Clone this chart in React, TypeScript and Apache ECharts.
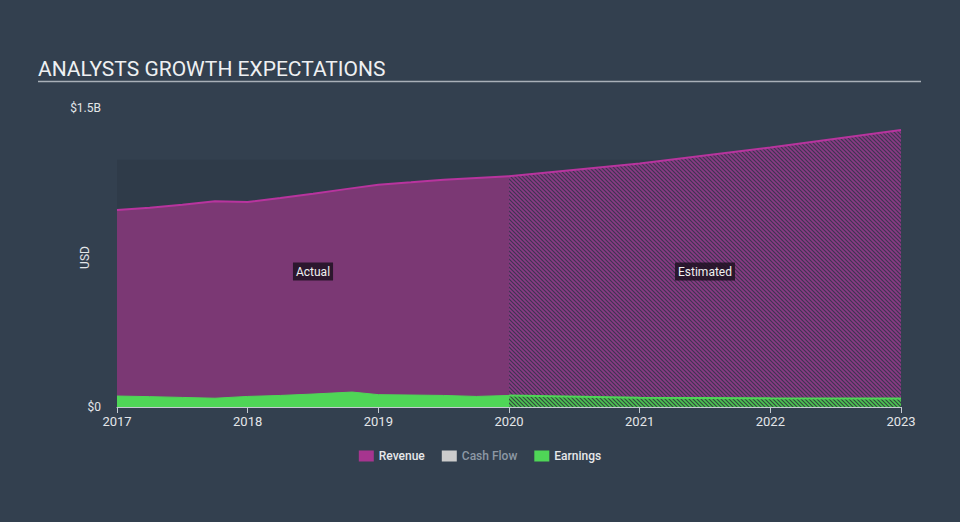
import React, { useEffect, useRef } from "react";
import * as echarts from "echarts";

// ---- data (values in billions USD, x as decimal years) ----
const revenueActualYears = [2017.0, 2017.25, 2017.5, 2017.75, 2018.0, 2018.25, 2018.5, 2018.75, 2019.0, 2019.25, 2019.5, 2019.75, 2020.0];
const revenueActual = [0.988, 1.0, 1.015, 1.032, 1.028, 1.048, 1.07, 1.093, 1.115, 1.127, 1.14, 1.149, 1.158];
const revenueEstYears = [2020.0, 2021.0, 2022.0, 2023.0];
const revenueEst = [1.158, 1.222, 1.302, 1.39];

const earningsActualYears = [2017.0, 2017.25, 2017.5, 2017.75, 2018.0, 2018.25, 2018.5, 2018.8, 2019.0, 2019.25, 2019.5, 2019.75, 2020.0];
const earningsActual = [0.055, 0.052, 0.048, 0.044, 0.053, 0.058, 0.065, 0.075, 0.062, 0.06, 0.058, 0.053, 0.058];
const earningsEstYears = [2020.0, 2021.0, 2022.0, 2023.0];
const earningsEst = [0.058, 0.046, 0.044, 0.043];

const cashFlow: number[][] = [];

const xTicks = { min: 2017, max: 2023, step: 1 };
const yTicks = { min: 0, max: 1.5, step: 1.5 };
const bandTop = 1.24; // top of the shaded plot band (in $B)
const periods = [
  { label: "Actual", from: 2017, to: 2020 },
  { label: "Estimated", from: 2020, to: 2023 },
];
const legendNames = ["Revenue", "Cash Flow", "Earnings"];

const zip = (xs: number[], ys: number[]) => xs.map((x, i) => [x, ys[i]]);

function makeHatch(bg: string, fg: string, size = 4, lw = 1.6) {
  const c = document.createElement("canvas");
  c.width = size;
  c.height = size;
  const ctx = c.getContext("2d")!;
  ctx.fillStyle = bg;
  ctx.fillRect(0, 0, size, size);
  ctx.strokeStyle = fg;
  ctx.lineWidth = lw;
  ctx.beginPath();
  ctx.moveTo(-1, -1);
  ctx.lineTo(size + 1, size + 1);
  ctx.moveTo(-1, size - 1);
  ctx.lineTo(1, size + 1);
  ctx.moveTo(size - 1, -1);
  ctx.lineTo(size + 1, 1);
  ctx.stroke();
  return c;
}

export default function App() {
  const ref = useRef<HTMLDivElement>(null);
  useEffect(() => {
    document.body.style.margin = "0";
    if (!ref.current) return;
    const chart = echarts.init(ref.current, null, { renderer: "svg" });
    const revHatch = makeHatch("#3f3552", "#8a3a84");
    const earnHatch = makeHatch("#34493f", "#4cc452");
    const font = "Roboto, 'Noto Sans', sans-serif";
    const magenta = "#b8349e";
    const green = "#4fd657";

    chart.setOption({
      animation: false,
      backgroundColor: "#33404f",
      textStyle: { fontFamily: font },
      legend: {
        data: legendNames.map((n) => ({
          name: n,
          textStyle: { color: n === "Cash Flow" ? "#8d98a4" : "#e6e8ea" },
        })),
        top: 445,
        left: "center",
        icon: "rect",
        itemWidth: 15,
        itemHeight: 11,
        itemGap: 17,
        textStyle: { fontSize: 12, fontFamily: font, fontWeight: 500 },
      },
      grid: { left: 117, right: 59, top: 108, bottom: 115 },
      xAxis: {
        type: "value",
        min: xTicks.min,
        max: xTicks.max,
        interval: xTicks.step,
        axisLine: { show: true, lineStyle: { color: "#c5cbd2", width: 1 } },
        axisTick: { show: true, length: 6, lineStyle: { color: "#c5cbd2" } },
        axisLabel: { color: "#e3e6e9", fontSize: 13, margin: 8, formatter: (v: number) => String(Math.round(v)) },
        splitLine: { show: false },
      },
      yAxis: {
        type: "value",
        min: yTicks.min,
        max: yTicks.max,
        interval: yTicks.step,
        name: "USD",
        nameLocation: "middle",
        nameRotate: 90,
        nameGap: 26,
        nameMoveOverlap: false,
        nameTextStyle: { color: "#e3e6e9", fontSize: 12 },
        axisLine: { show: false },
        axisTick: { show: false },
        splitLine: { show: false },
        axisLabel: {
          color: "#e3e6e9",
          fontSize: 12,
          margin: 16,
          formatter: (v: number) => (v === 0 ? "$0" : `$${v}B`),
        },
      },
      series: [
        {
          name: "Revenue",
          type: "line",
          data: zip(revenueActualYears, revenueActual),
          showSymbol: false,
          lineStyle: { color: magenta, width: 2 },
          itemStyle: { color: "#a6358f" },
          areaStyle: { color: "#7b3874", opacity: 1 },
          z: 2,
        },
        {
          name: "Revenue",
          type: "line",
          data: zip(revenueEstYears, revenueEst),
          showSymbol: false,
          lineStyle: { color: magenta, width: 2 },
          itemStyle: { color: "#a6358f" },
          areaStyle: {
            color: { image: revHatch, repeat: "repeat", imageWidth: 4, imageHeight: 4 },
            opacity: 1,
          },
          z: 2,
        },
        {
          name: "Cash Flow",
          type: "line",
          data: cashFlow,
          showSymbol: false,
          itemStyle: { color: "#cccccc" },
          lineStyle: { color: "#cccccc" },
        },
        {
          name: "Earnings",
          type: "line",
          data: zip(earningsActualYears, earningsActual),
          showSymbol: false,
          lineStyle: { color: green, width: 1 },
          itemStyle: { color: green },
          areaStyle: { color: green, opacity: 1 },
          z: 3,
        },
        {
          name: "Earnings",
          type: "line",
          data: zip(earningsEstYears, earningsEst),
          showSymbol: false,
          lineStyle: { color: green, width: 2 },
          itemStyle: { color: green },
          areaStyle: {
            color: { image: earnHatch, repeat: "repeat", imageWidth: 4, imageHeight: 4 },
            opacity: 1,
          },
          z: 3,
        },
      ],
    });

    // decorations positioned through the chart's own scales
    const px = (x: number, y: number) => chart.convertToPixel({ gridIndex: 0 }, [x, y]) as number[];
    const bandTL = px(xTicks.min, bandTop);
    const bandBR = px(xTicks.max, yTicks.min);
    const labelY = px(xTicks.min, (yTicks.max + yTicks.min) / 2)[1] + 14;

    chart.setOption({
      graphic: [
        {
          type: "rect",
          shape: { x: bandTL[0], y: bandTL[1], width: bandBR[0] - bandTL[0], height: bandBR[1] - bandTL[1] },
          style: { fill: "#2f3b49" },
          z: -1,
          silent: true,
        },
        {
          type: "text",
          left: 38,
          top: 58,
          style: { text: "ANALYSTS GROWTH EXPECTATIONS", fill: "#eef0f2", font: `21px ${font}` },
        },
        {
          type: "line",
          shape: { x1: 38, y1: 81.5, x2: 921, y2: 81.5 },
          style: { stroke: "#a9b0b8", lineWidth: 1.5 },
        },
        ...periods.map((p) => ({
          type: "text",
          x: px((p.from + p.to) / 2, 0)[0],
          y: labelY,
          z: 10,
          style: {
            text: p.label,
            fill: "#f0f0f0",
            font: `12px ${font}`,
            align: "center",
            verticalAlign: "middle",
            backgroundColor: "rgba(30,18,34,0.85)",
            padding: [3, 3, 3, 3],
          },
        })),
      ],
    });
    return () => chart.dispose();
  }, []);

  return <div ref={ref} style={{ width: 960, height: 522 }} />;
}
